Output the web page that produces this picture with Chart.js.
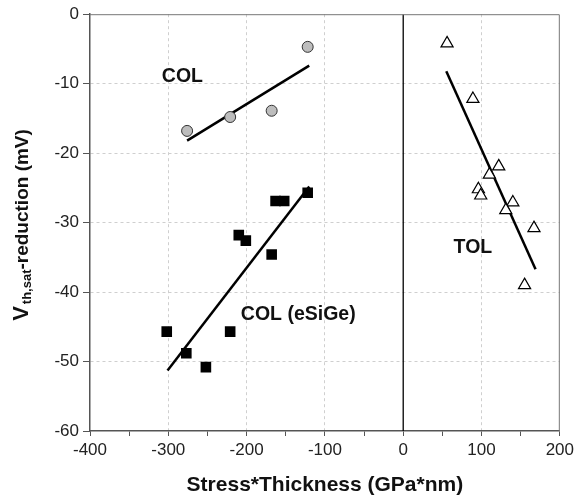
<!DOCTYPE html>
<html>
<head>
<meta charset="utf-8">
<script src="https://cdn.jsdelivr.net/npm/chart.js@4.4.0/dist/chart.umd.min.js"></script>
<style>
  html, body { margin: 0; padding: 0; background: #fff; }
  #wrap { width: 578px; height: 498px; }
</style>
</head>
<body>
<div id="wrap"><canvas id="stressChart" width="578" height="498"></canvas></div>
<script>
// COL (gray circles)
const colX = [-276, -221, -168, -122];
const colY = [-16.8, -14.8, -13.9, -4.7];
const colFitX = [-276, -120];
const colFitY = [-18.2, -7.4];

// COL (eSiGe) (black squares)
const sigeX = [-302, -277, -252, -221, -210, -201, -168, -163, -152, -122];
const sigeY = [-45.7, -48.8, -50.8, -45.7, -31.8, -32.6, -34.6, -26.9, -26.9, -25.7];
const sigeFitX = [-301, -120];
const sigeFitY = [-51.3, -24.8];

// TOL (open triangles)
const tolX = [56, 89, 122, 110, 96, 99, 140, 131, 167, 155];
const tolY = [-4.2, -12.2, -21.9, -23.1, -25.2, -26.1, -27.1, -28.2, -30.8, -39.0];
const tolFitX = [55, 169];
const tolFitY = [-8.2, -36.7];

// zero line
const zeroX = [0, 0];
const zeroY = [0, -60];

// text labels placed in data coordinates
const labelText = ['COL', 'COL (eSiGe)', 'TOL'];
const labelX = [-282, -134, 89];
const labelY = [-9.0, -43.3, -33.6];

const toPoints = (xs, ys) => xs.map((x, i) => ({ x: x, y: ys[i] }));

const fitStyle = {
    showLine: true,
    pointRadius: 0,
    borderColor: '#000',
    borderWidth: 2.5,
    fill: false
};

// top/right frame, text labels and the y title with subscript
const extrasPlugin = {
    id: 'extras',
    afterDraw(chart) {
        const ctx = chart.ctx;
        const area = chart.chartArea;
        const xs = chart.scales.x;
        const ys = chart.scales.y;

        ctx.save();
        ctx.strokeStyle = '#777';
        ctx.lineWidth = 1;
        ctx.beginPath();
        ctx.moveTo(area.left, area.top + 0.5);
        ctx.lineTo(area.right - 0.5, area.top + 0.5);
        ctx.lineTo(area.right - 0.5, area.bottom);
        ctx.stroke();

        ctx.fillStyle = '#111';
        ctx.font = 'bold 19.5px "Liberation Sans", Arial, sans-serif';
        ctx.textAlign = 'center';
        ctx.textBaseline = 'middle';
        labelText.forEach((t, i) => {
            ctx.fillText(t, xs.getPixelForValue(labelX[i]), ys.getPixelForValue(labelY[i]));
        });

        // y title: V (th,sat) -reduction (mV)
        const bigFont = 'bold 22px "Liberation Sans", Arial, sans-serif';
        const subFont = 'bold 13px "Liberation Sans", Arial, sans-serif';
        const mainFont = 'bold 19px "Liberation Sans", Arial, sans-serif';
        ctx.font = bigFont;
        const w1 = ctx.measureText('V').width + 2;
        ctx.font = subFont;
        const w2 = ctx.measureText('th,sat').width;
        ctx.font = mainFont;
        const w3 = ctx.measureText('-reduction (mV)').width;
        const total = w1 + w2 + w3;

        ctx.translate(27.5, 225);
        ctx.rotate(-Math.PI / 2);
        ctx.textAlign = 'left';
        ctx.textBaseline = 'alphabetic';
        let pos = -total / 2;
        ctx.font = bigFont;
        ctx.fillText('V', pos, 0);
        pos += w1;
        ctx.font = subFont;
        ctx.fillText('th,sat', pos, 3);
        pos += w2;
        ctx.font = mainFont;
        ctx.fillText('-reduction (mV)', pos, 0);
        ctx.restore();
    }
};

const ctx = document.getElementById('stressChart').getContext('2d');

new Chart(ctx, {
    type: 'scatter',
    data: {
        datasets: [
            {
                label: 'zero',
                data: toPoints(zeroX, zeroY),
                showLine: true,
                pointRadius: 0,
                borderColor: '#000',
                borderWidth: 1.3
            },
            {
                label: 'COL',
                data: toPoints(colX, colY),
                pointStyle: 'circle',
                pointRadius: 5.5,
                backgroundColor: '#bdbdbd',
                borderColor: '#333',
                borderWidth: 1
            },
            Object.assign({ label: 'COL fit', data: toPoints(colFitX, colFitY) }, fitStyle),
            {
                label: 'COL (eSiGe)',
                data: toPoints(sigeX, sigeY),
                pointStyle: 'rect',
                pointRadius: 7.5,
                backgroundColor: '#000',
                borderColor: '#000',
                borderWidth: 0
            },
            Object.assign({ label: 'eSiGe fit', data: toPoints(sigeFitX, sigeFitY) }, fitStyle),
            {
                label: 'TOL',
                data: toPoints(tolX, tolY),
                pointStyle: 'triangle',
                pointRadius: 7,
                backgroundColor: '#fff',
                borderColor: '#000',
                borderWidth: 1.2
            },
            Object.assign({ label: 'TOL fit', data: toPoints(tolFitX, tolFitY) }, fitStyle)
        ]
    },
    options: {
        responsive: false,
        animation: false,
        layout: { padding: { left: 0, top: 14, right: 16, bottom: 0 } },
        plugins: {
            legend: { display: false },
            tooltip: { enabled: false }
        },
        scales: {
            x: {
                type: 'linear',
                min: -400,
                max: 200,
                afterFit: (scale) => { scale.height = 67; },
                ticks: {
                    stepSize: 50,
                    autoSkip: false,
                    maxRotation: 0,
                    padding: 4,
                    color: '#222',
                    font: { family: '"Liberation Sans", Arial, sans-serif', size: 17 },
                    callback: (v) => (v % 100 === 0 ? v : '')
                },
                grid: {
                    color: (c) => {
                        const v = c.tick ? c.tick.value : 0;
                        return (v % 100 !== 0 || v === -400 || v === 0 || v === 200) ? 'rgba(0,0,0,0)' : '#cfcfcf';
                    },
                    lineWidth: 1,
                    tickColor: '#555',
                    tickLength: 5,
                    tickBorderDash: []
                },
                border: { display: true, color: '#555', width: 1.5, dash: [3, 3] },
                title: {
                    display: true,
                    text: 'Stress*Thickness (GPa*nm)',
                    color: '#111',
                    font: { family: '"Liberation Sans", Arial, sans-serif', size: 21, weight: 'bold' },
                    padding: { top: 4, bottom: 0 }
                }
            },
            y: {
                type: 'linear',
                min: -60,
                max: 0,
                afterFit: (scale) => { scale.width = 90; },
                ticks: {
                    stepSize: 10,
                    padding: 4,
                    color: '#222',
                    font: { family: '"Liberation Sans", Arial, sans-serif', size: 17 }
                },
                grid: {
                    color: (c) => {
                        const v = c.tick ? c.tick.value : 0;
                        return (v === 0 || v === -60) ? 'rgba(0,0,0,0)' : '#cfcfcf';
                    },
                    lineWidth: 1,
                    tickColor: '#555',
                    tickLength: 7,
                    tickBorderDash: []
                },
                border: { display: true, color: '#555', width: 1.5, dash: [3, 3] }
            }
        }
    },
    plugins: [extrasPlugin]
});
</script>
</body>
</html>
